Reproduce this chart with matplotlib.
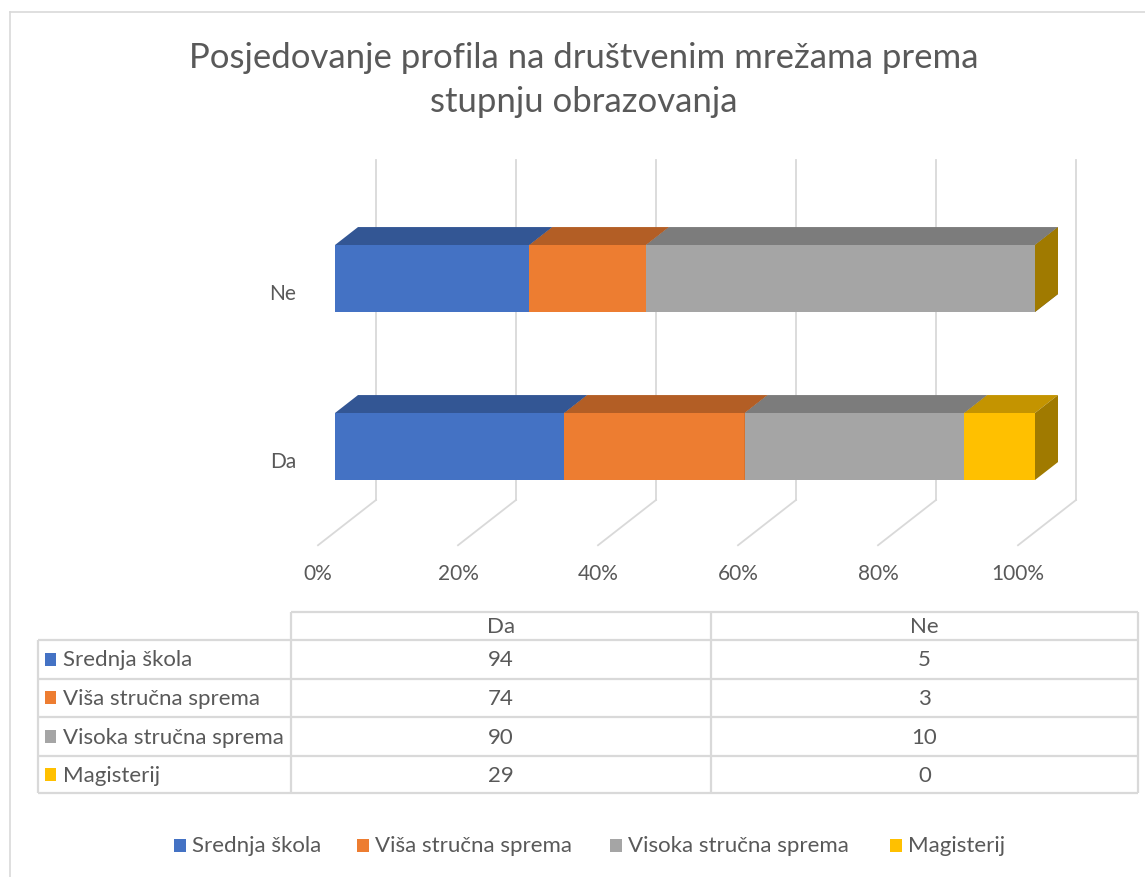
import numpy as np
import matplotlib

matplotlib.use("Agg")
import matplotlib.pyplot as plt
from matplotlib.patches import Polygon, Rectangle

CATEGORIES = ["Da", "Ne"]
SERIES = ["Srednja škola", "Viša stručna sprema", "Visoka stručna sprema", "Magisterij"]
DA = [94, 74, 90, 29]
NE = [5, 3, 10, 0]
TICKS = [0, 20, 40, 60, 80, 100]
TICK_LABELS = ["0%", "20%", "40%", "60%", "80%", "100%"]
TITLE = ["Posjedovanje profila na društvenim mrežama prema", "stupnju obrazovanja"]

# ---- style
FRONT = ["#4472C4", "#ED7D31", "#A5A5A5", "#FFC000"]
TOPC = ["#335694", "#B35E25", "#7C7C7C", "#C49400"]
SIDEC = ["#2A4A80", "#9A5020", "#6A6A6A", "#A07A00"]
TXT = "#595959"
GRID = "#D9D9D9"
FS = 16
plt.rcParams["font.family"] = ["Lato", "DejaVu Sans"]

W, H = 1145, 877
fig = plt.figure(figsize=(W / 100, H / 100), dpi=100)

# chart axes: x in percent, y in category index; geometry
PX, X0 = 7.0, 335.0          # px per percent, px of 0% on the bar front
PITCH, Y0 = 168.0, 446.5     # px between categories, px of first category centre
ax = fig.add_axes([0, 0, 1, 1])
ax.set_xlim(-X0 / PX, (W - X0) / PX)
ax.set_ylim((Y0 - H) / PITCH, Y0 / PITCH)
ax.axis("off")


def depth(d):
    """oblique offset (data units) for a depth of d pixels"""
    return d / PX, d * 0.78 / PITCH


# gridlines on back wall + floor
wdx, wdy = depth(41)
fdx, fdy = depth(-17)
v_floor = (Y0 - 500) / PITCH
v_top = (Y0 - 160) / PITCH
for t, lab in zip(TICKS, TICK_LABELS):
    ax.plot([t + wdx, t + wdx], [v_floor, v_top], color=GRID, lw=1.3, zorder=1)
    ax.plot([t + wdx, t + fdx], [v_floor, v_floor + fdy - wdy], color=GRID,
            lw=1.3, zorder=1)
    ax.text(t + fdx, (Y0 - 574) / PITCH, lab, ha="center", va="center",
            fontsize=15, color=TXT)

# 3D 100% stacked bars
values = np.array([DA, NE], dtype=float)
shares = values / values.sum(axis=1, keepdims=True) * 100
bh = 67 / PITCH
bdx, bdy = depth(23)
for i, row in enumerate(shares):
    left = 0.0
    top, bot = i + bh / 2, i - bh / 2
    for s, w in enumerate(row):
        z = 3 + s
        r = left + w
        ax.add_patch(Rectangle((left, bot), w, bh, fc=FRONT[s], ec="none", zorder=z))
        ax.add_patch(Polygon([(left, top), (r, top), (r + bdx, top + bdy),
                              (left + bdx, top + bdy)], fc=TOPC[s], ec="none", zorder=z))
        ax.add_patch(Polygon([(r, bot), (r, top), (r + bdx, top + bdy),
                              (r + bdx, bot + bdy)], fc=SIDEC[s], ec="none", zorder=z))
        left = r
    ax.text((296 - X0) / PX, i - 15 / PITCH, CATEGORIES[i], ha="right", va="center",
            fontsize=15, color=TXT)

# ---- layout axes in pixels for title, data table, legend, frame
lay = fig.add_axes([0, 0, 1, 1], zorder=5)
lay.set_xlim(0, W)
lay.set_ylim(H, 0)
lay.axis("off")
lay.patch.set_alpha(0)

lay.plot([10, 10], [12, H], color=GRID, lw=1.2)
lay.plot([10, W], [12, 12], color=GRID, lw=1.2)

lay.text(584, 58, TITLE[0], ha="center", va="center", fontsize=25,
         color=TXT)
lay.text(584, 102, TITLE[1], ha="center", va="center", fontsize=25,
         color=TXT)

# data table
cols_x = [38, 291, 711, 1138]
rows_y = [612, 640, 679, 717, 756, 793]
tl = dict(color=GRID, lw=1.6, solid_capstyle="butt")
lay.plot([cols_x[1], cols_x[3]], [rows_y[0], rows_y[0]], **tl)
for y in rows_y[1:]:
    lay.plot([cols_x[0], cols_x[3]], [y, y], **tl)
lay.plot([cols_x[0], cols_x[0]], [rows_y[1], rows_y[-1]], **tl)
for x in cols_x[1:]:
    lay.plot([x, x], [rows_y[0], rows_y[-1]], **tl)

col_c = [(cols_x[1] + cols_x[2]) / 2, (cols_x[2] + cols_x[3]) / 2]
for c, cat in enumerate(CATEGORIES):
    lay.text(col_c[c], (rows_y[0] + rows_y[1]) / 2 + 1, cat, ha="center",
             va="center", fontsize=FS, color=TXT)
for s, name in enumerate(SERIES):
    yc = (rows_y[s + 1] + rows_y[s + 2]) / 2
    lay.add_patch(Rectangle((45, yc - 7), 11, 13, fc=FRONT[s], ec="none"))
    lay.text(63, yc + 1, name, ha="left", va="center", fontsize=FS, color=TXT)
    for c, v in enumerate(values[:, s]):
        lay.text(col_c[c], yc + 1, f"{v:.0f}", ha="center", va="center",
                 fontsize=FS, color=TXT)

# legend
leg_x = [174, 357, 610, 890]
for s, name in enumerate(SERIES):
    lay.add_patch(Rectangle((leg_x[s], 839), 12, 13, fc=FRONT[s], ec="none"))
    lay.text(leg_x[s] + 18, 846, name, ha="left", va="center", fontsize=FS,
             color=TXT)

fig.savefig("out.png", dpi=100)
